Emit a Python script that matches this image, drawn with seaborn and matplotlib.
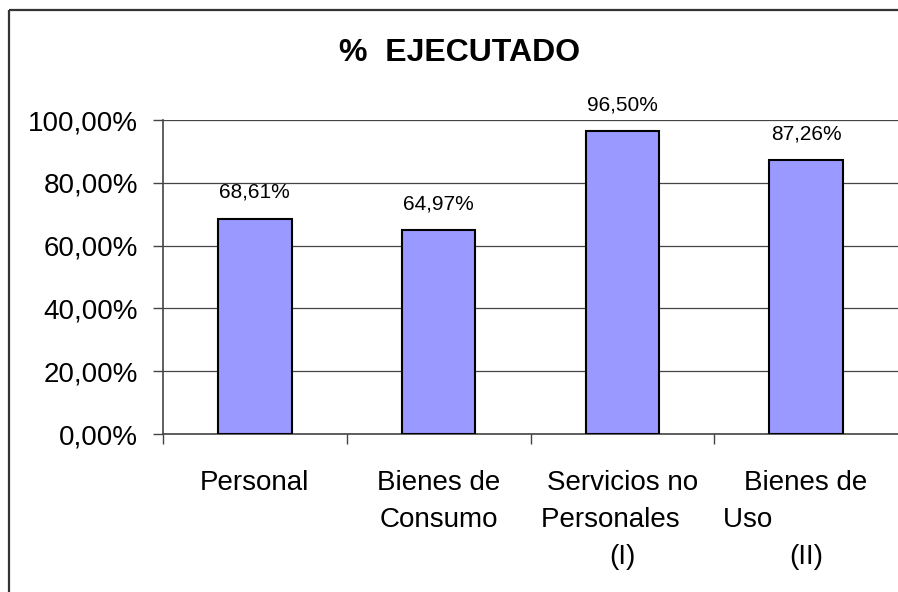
import matplotlib
matplotlib.use("Agg")
import matplotlib.pyplot as plt
from matplotlib.lines import Line2D
from matplotlib.ticker import FuncFormatter, FixedLocator
import seaborn as sns
import pandas as pd

categories = ["Personal", "Bienes de Consumo", "Servicios no Personales (I)", "Bienes de Uso (II)"]
tick_labels = ["Personal", "Bienes de\nConsumo", "Servicios no\nPersonales   \n(I)", "Bienes de\nUso               \n(II)"]
values = [68.61, 64.97, 96.50, 87.26]
title = "%  EJECUTADO"

sns.set_style("white")
plt.rcParams["font.family"] = ["Liberation Sans", "DejaVu Sans"]
plt.rcParams["text.color"] = "black"
plt.rcParams["xtick.color"] = "black"
plt.rcParams["ytick.color"] = "black"

fig = plt.figure(figsize=(8.98, 5.92), dpi=100)
ax = fig.add_axes([163/898, 158/592, 735/898, 314/592])

df = pd.DataFrame({"cat": categories, "val": values})
sns.barplot(data=df, x="cat", y="val", color="#9999FF", saturation=1,
            edgecolor="black", linewidth=1.5, width=0.4, ax=ax, zorder=3)

ax.set_xlim(-0.5, 3.5)
ax.set_ylim(0, 100)
ax.set_yticks([0, 20, 40, 60, 80, 100])
ax.yaxis.set_major_formatter(FuncFormatter(lambda v, p: f"{v:.2f}".replace(".", ",") + "%"))
ax.grid(axis="y", color="#444444", linewidth=0.9, zorder=0)
ax.grid(axis="x", visible=False)
ax.set_axisbelow(True)

ax.set_xticks(range(len(categories)))
ax.set_xticklabels(tick_labels, fontsize=20, linespacing=1.55, ha="center", va="top", color="black")
ax.tick_params(axis="x", which="major", length=0, pad=26)
ax.xaxis.set_minor_locator(FixedLocator([-0.5, 0.5, 1.5, 2.5]))
ax.tick_params(axis="x", which="minor", length=7, width=1, color="#444444", direction="out", bottom=True)
ax.tick_params(axis="y", length=7, width=1, color="#444444", direction="out", left=True, pad=11,
               labelsize=20, labelcolor="black")
ax.set_xlabel("")
ax.set_ylabel("")

for s in ["top", "right"]:
    ax.spines[s].set_visible(False)
for s in ["left", "bottom"]:
    ax.spines[s].set_color("#444444")
    ax.spines[s].set_linewidth(1.2)

for c in ax.containers:
    ax.bar_label(c, labels=[f"{v:.2f}".replace(".", ",") + "%" for v in values],
                 padding=12, fontsize=15, color="black")

fig.text(460/898, 1 - 53/592, title, ha="center", va="center", fontsize=23, fontweight="bold", color="black")

ytop = 1 - 10/592
xl = 9/898
fig.add_artist(Line2D([xl, xl], [0, ytop], transform=fig.transFigure, color="#333333",
                      linewidth=1.6, solid_capstyle="butt"))
fig.add_artist(Line2D([xl, 1.02], [ytop, ytop], transform=fig.transFigure, color="#333333",
                      linewidth=1.6, solid_capstyle="butt"))

fig.savefig("out.png", dpi=100)
